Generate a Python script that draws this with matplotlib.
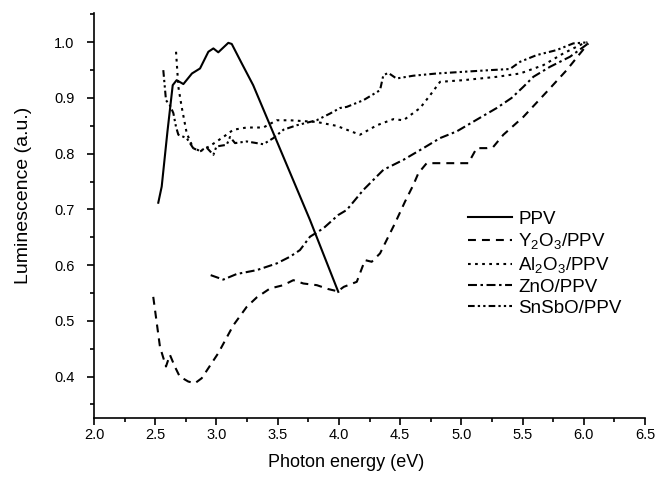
import matplotlib.pyplot as plt
from matplotlib.ticker import MultipleLocator

plt.rcParams.update({'font.family': 'Liberation Sans', 'font.size': 10.5,
                     'mathtext.fontset': 'custom',
                     'mathtext.rm': 'Liberation Sans',
                     'mathtext.it': 'Liberation Sans:italic'})

# photon energy (eV) / luminescence (a.u.)
ppv_x = [2.525, 2.553, 2.60, 2.643, 2.675, 2.73, 2.80, 2.866, 2.934, 2.975, 3.015,
         3.097, 3.125, 3.207, 3.30, 3.764, 3.995]
ppv_y = [0.712, 0.741, 0.84, 0.923, 0.932, 0.925, 0.944, 0.953, 0.983, 0.989, 0.982,
         0.999, 0.997, 0.962, 0.923, 0.681, 0.552]

y2o3_x = [2.484, 2.539, 2.588, 2.62, 2.66, 2.70, 2.77, 2.825, 2.88, 3.015, 3.138,
          3.247, 3.329, 3.437, 3.546, 3.628, 3.71, 3.82, 3.913, 3.99, 4.04, 4.146,
          4.213, 4.268, 4.336, 4.39, 4.458, 4.54, 4.608, 4.649, 4.717, 4.80, 4.907,
          5.057, 5.125, 5.207, 5.26, 5.343, 5.506, 5.697, 5.86, 5.97, 6.037]
y2o3_y = [0.543, 0.453, 0.418, 0.439, 0.418, 0.400, 0.391, 0.388, 0.397, 0.442, 0.492,
          0.525, 0.542, 0.558, 0.564, 0.573, 0.567, 0.564, 0.557, 0.553, 0.561, 0.570,
          0.609, 0.606, 0.621, 0.645, 0.675, 0.714, 0.744, 0.765, 0.783, 0.783, 0.783,
          0.783, 0.810, 0.810, 0.812, 0.834, 0.866, 0.911, 0.950, 0.980, 0.998]

al2o3_x = [2.67, 2.689, 2.716, 2.757, 2.81, 2.866, 2.948, 3.056, 3.138, 3.247, 3.383,
           3.492, 3.60, 3.818, 3.981, 4.172, 4.31, 4.445, 4.527, 4.663, 4.745, 4.826,
           5.016, 5.289, 5.48, 5.67, 5.833, 5.996, 6.03]
al2o3_y = [0.983, 0.920, 0.884, 0.837, 0.810, 0.804, 0.814, 0.830, 0.843, 0.847, 0.847,
           0.860, 0.860, 0.857, 0.850, 0.834, 0.851, 0.862, 0.860, 0.882, 0.905, 0.929,
           0.932, 0.938, 0.944, 0.959, 0.980, 0.998, 1.0]

zno_x = [2.953, 3.056, 3.165, 3.329, 3.492, 3.60, 3.682, 3.764, 3.873, 3.995, 4.064,
         4.20, 4.363, 4.527, 4.69, 4.826, 4.962, 5.125, 5.289, 5.41, 5.506, 5.588,
         5.724, 5.887, 6.037]
zno_y = [0.582, 0.574, 0.584, 0.591, 0.603, 0.615, 0.627, 0.651, 0.666, 0.690, 0.699,
         0.735, 0.771, 0.789, 0.810, 0.828, 0.840, 0.861, 0.882, 0.900, 0.920, 0.938,
         0.956, 0.974, 0.998]

snsbo_x = [2.566, 2.588, 2.62, 2.648, 2.67, 2.689, 2.757, 2.81, 2.866, 2.92, 2.975,
           3.0, 3.084, 3.111, 3.152, 3.247, 3.383, 3.465, 3.547, 3.655, 3.818, 3.927,
           4.009, 4.064, 4.20, 4.336, 4.363, 4.404, 4.47, 4.608, 4.80, 5.016, 5.234,
           5.397, 5.48, 5.615, 5.778, 5.914, 6.037]
snsbo_y = [0.950, 0.896, 0.887, 0.873, 0.848, 0.834, 0.828, 0.810, 0.805, 0.811, 0.798,
           0.813, 0.816, 0.830, 0.819, 0.822, 0.817, 0.828, 0.843, 0.851, 0.860, 0.872,
           0.882, 0.884, 0.896, 0.914, 0.941, 0.945, 0.935, 0.940, 0.944, 0.947, 0.950,
           0.952, 0.965, 0.977, 0.986, 0.998, 1.0]

fig = plt.figure(figsize=(6.68, 4.79), dpi=100)
ax = fig.add_axes([0.1407, 0.1267, 0.8249, 0.8455])

lw = 1.5
ax.plot(ppv_x, ppv_y, color='black', lw=lw, ls='-', label='PPV')
ax.plot(y2o3_x, y2o3_y, color='black', lw=lw, ls=(0, (3.8, 2.9)),
        label='Y$_2$O$_3$/PPV')
ax.plot(al2o3_x, al2o3_y, color='black', lw=lw, ls=(0, (1.3, 2.1)),
        label='Al$_2$O$_3$/PPV')
ax.plot(zno_x, zno_y, color='black', lw=lw, ls=(0, (4.3, 1.7, 1.2, 1.7)),
        label='ZnO/PPV')
ax.plot(snsbo_x, snsbo_y, color='black', lw=lw, ls=(0, (3.2, 1.5, 1.1, 1.5, 1.1, 1.5)),
        label='SnSbO/PPV')

ax.set_xlim(2.0, 6.5)
ax.set_ylim(0.325, 1.052)
ax.xaxis.set_major_locator(MultipleLocator(0.5))
ax.xaxis.set_minor_locator(MultipleLocator(0.25))
ax.yaxis.set_major_locator(MultipleLocator(0.1))
ax.yaxis.set_minor_locator(MultipleLocator(0.05))
ax.tick_params(which='major', direction='out', length=5, width=1.2)
ax.tick_params(which='minor', direction='out', length=3, width=1.2)
ax.tick_params(axis='x', pad=2)
ax.tick_params(axis='y', pad=9)

for side in ['top', 'right']:
    ax.spines[side].set_visible(False)
for side in ['left', 'bottom']:
    ax.spines[side].set_linewidth(1.2)

ax.set_xlabel('Photon energy (eV)', fontsize=13)
ax.set_ylabel('Luminescence (a.u.)', fontsize=14)
ax.xaxis.set_label_coords(0.458, -0.088)
ax.yaxis.set_label_coords(-0.113, 0.55)

ax.legend(loc='upper left', bbox_to_anchor=(0.678, 0.513), frameon=False,
          handlelength=2.35, handletextpad=0.35, labelspacing=0.2,
          borderaxespad=0, borderpad=0, fontsize=13.5)

fig.savefig('out.png', dpi=100)
